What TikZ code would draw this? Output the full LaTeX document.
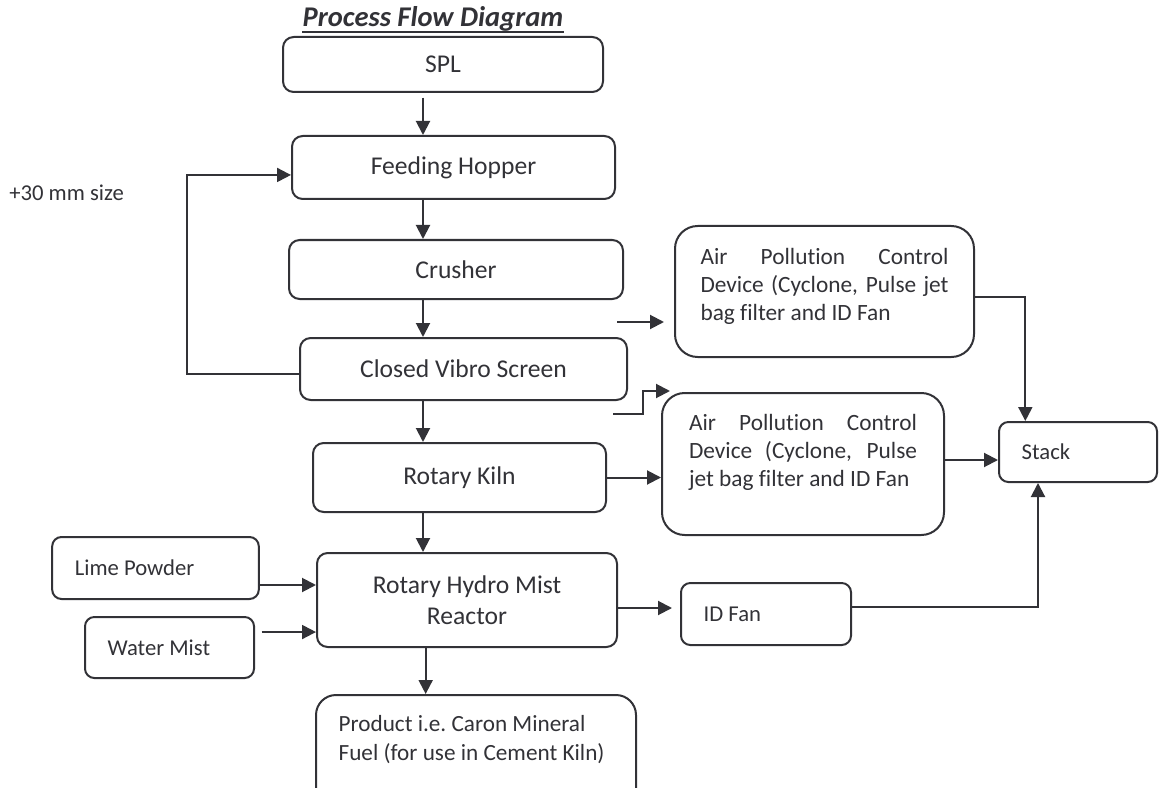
\documentclass[tikz,border=0pt]{standalone}
\usepackage{fontspec}
\setmainfont{Carlito}[Ligatures=NoCommon]
\usepackage{xcolor}
\usetikzlibrary{shapes}
\usetikzlibrary{positioning}
\usetikzlibrary{arrows.meta}
\definecolor{ink}{RGB}{50,50,55}

\begin{document}
\begin{tikzpicture}[x=0.75pt,y=-0.75pt,
	box/.style={draw=ink,line width=1.5pt,rounded corners=8pt,inner sep=0pt,text=ink,font=\fontsize{19.2}{23}\selectfont,align=center},
	sidebox/.style={draw=ink,line width=1.5pt,rounded corners=7pt,inner xsep=17pt,inner ysep=0pt,text=ink,font=\fontsize{17}{21}\selectfont,align=flush left},
	apcbox/.style={draw=ink,line width=1.5pt,rounded corners=17pt,inner xsep=0pt,text=ink,font=\fontsize{17.5}{21}\selectfont},
	flow/.style={draw=ink,line width=1.5pt,-{Triangle[width=10.5pt,length=10.5pt]}}]
		\useasboundingbox (0,0) rectangle (1164,788);
		%Title
			\node[anchor=base,inner sep=0pt,text=ink,font=\fontsize{21.4}{25}\selectfont\bfseries\itshape] (title) at (433,27) {Process Flow Diagram};
			\draw[ink,line width=1.4pt] ([yshift=-3.7pt]title.base west) -- ([yshift=-3.7pt]title.base east);
		%Main column
			\node[box,minimum width=240pt,minimum height=41.25pt] (spl) at (443,64.5) {SPL};
			\node[box,minimum width=242.25pt,minimum height=47.25pt] (fh) at (453.5,167.5) {Feeding Hopper};
			\node[box,minimum width=250.5pt,minimum height=44.25pt] (crusher) at (456,269.5) {Crusher};
			\node[box,minimum width=245.25pt,minimum height=46.5pt] (cvs) at (463.5,369) {Closed Vibro Screen};
			\node[box,minimum width=219.75pt,minimum height=51.75pt] (kiln) at (459.5,477.5) {Rotary Kiln};
			\node[box,minimum width=225pt,minimum height=70.5pt] (reactor) at (467,600) {Rotary Hydro Mist\\Reactor};
			\node[box,anchor=north west,rounded corners=15pt,inner xsep=17pt,inner ysep=15pt,font=\fontsize{17.4}{22}\selectfont] (product) at (315,694)
				{\parbox[t][100pt][t]{206pt}{Product i.e.\ Caron Mineral\\Fuel (for use in Cement Kiln)}};
		%Side inputs
			\node[sidebox,text width=121pt,minimum height=46.5pt] (lime) at (155.5,568) {Lime Powder};
			\node[sidebox,text width=92.75pt,minimum height=45.75pt] (water) at (169.5,647.5) {Water Mist};
			\node[anchor=west,inner sep=0pt,text=ink,font=\fontsize{17}{20}\selectfont] (size) at (9,193) {+30 mm size};
		%Gas side
			\node[apcbox,minimum width=224.25pt,inner ysep=17pt] (apc1) at (824.5,291.5)
				{\parbox[c][64.25pt][t]{186pt}{\makebox[186pt][s]{Air Pollution Control}\\\makebox[186pt][s]{Device (Cyclone, Pulse jet}\\bag filter and ID Fan}};
			\node[apcbox,minimum width=211.5pt,inner ysep=15.75pt] (apc2) at (803,464)
				{\parbox[c][75pt][t]{171pt}{\makebox[171pt][s]{Air Pollution Control}\\\makebox[171pt][s]{Device (Cyclone, Pulse}\\jet bag filter and ID Fan}};
			\node[sidebox,text width=93.5pt,minimum height=46.5pt] (idfan) at (766,614) {ID Fan};
			\node[sidebox,text width=84.5pt,minimum height=45pt] (stack) at (1078,452) {Stack};
		%Arrows down the column
			\coordinate (col) at (423,0);
			\draw[flow,shorten <=3.5pt] (spl.south -| col) -- (fh.north -| col);
			\draw[flow] (fh.south -| col) -- (crusher.north -| col);
			\draw[flow] (crusher.south -| col) -- (cvs.north -| col);
			\draw[flow] (cvs.south -| col) -- (kiln.north -| col);
			\draw[flow] (kiln.south -| col) -- (reactor.north -| col);
			\draw[flow] ([xshift=2pt]reactor.south -| col) -- ([xshift=2pt]product.north -| col);
		%Oversize return
			\coordinate (loop) at (187,0);
			\draw[flow] ([yshift=-3.7pt]cvs.west) -- ([yshift=-3.7pt]cvs.west -| loop) |- ([yshift=-5.6pt]fh.west);
		%Inputs to reactor
			\draw[flow] ([yshift=-12.75pt]lime.east) -- ([yshift=-12.75pt]lime.east -| reactor.west);
			\draw[flow,shorten <=5pt] ([yshift=11.6pt]water.east) -- ([yshift=11.6pt]water.east -| reactor.west);
		%Loose arrows towards the devices
			\coordinate (g1a) at (617,322);
			\coordinate (g1b) at (664,322);
			\draw[flow] (g1a) -- (g1b);
			\coordinate (g2a) at (613,414);
			\coordinate (g2b) at (643,391);
			\coordinate (g2c) at (670,391);
			\draw[flow] (g2a) -| (g2b) -- (g2c);
		%Gas lines
			\draw[flow] (kiln.east) -- (kiln.east -| apc2.west);
			\draw[flow] ([yshift=3pt]apc2.east) -- ([yshift=3pt]apc2.east -| stack.west);
			\draw[flow] ([yshift=-4pt]apc1.east) -| ([xshift=-39.5pt]stack.north);
			\draw[flow,shorten >=6pt] ([yshift=-6pt]reactor.east) -- ([yshift=-6pt]reactor.east -| idfan.west);
			\draw[flow] ([yshift=5pt]idfan.east) -| ([xshift=-30pt]stack.south);
\end{tikzpicture}
\end{document}
